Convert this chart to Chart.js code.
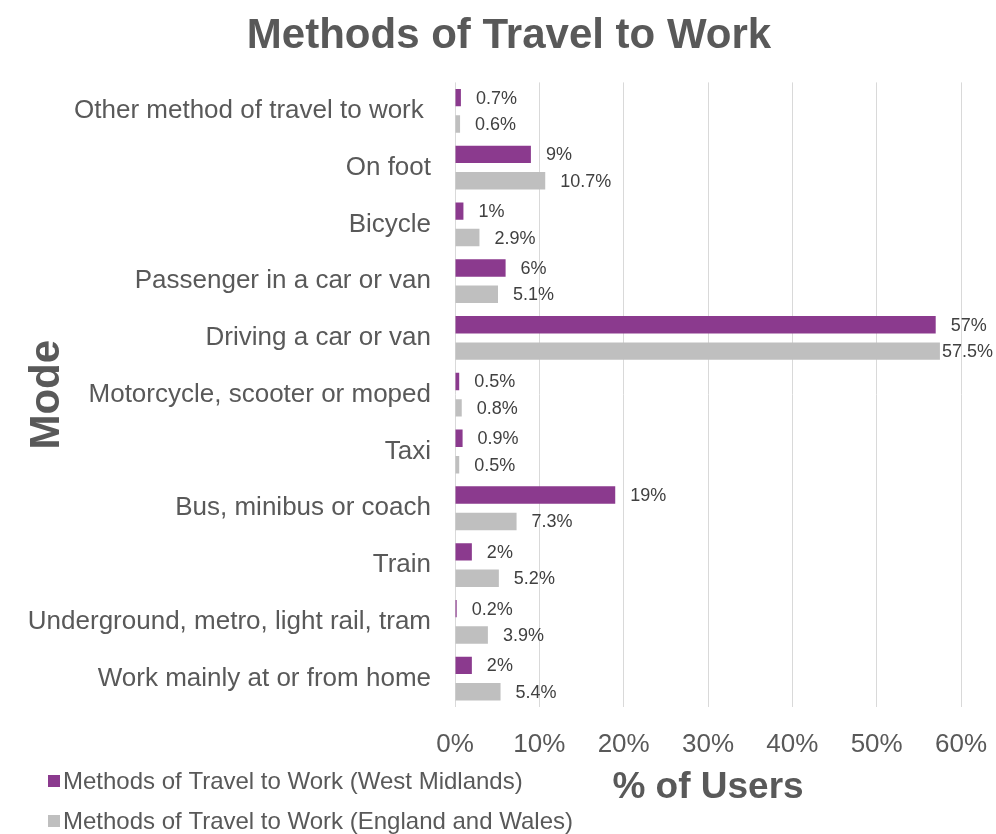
<!DOCTYPE html>
<html>
<head>
<meta charset="utf-8">
<script src="https://cdn.jsdelivr.net/npm/chart.js"></script>
<style>
  html, body { margin: 0; padding: 0; background: #fff; }
  #wrap { width: 996px; height: 834px; position: relative; }
</style>
</head>
<body>
<div id="wrap"><canvas id="travelChart"></canvas></div>
<script>
const modes = [
    'Other method of travel to work ',
    'On foot',
    'Bicycle',
    'Passenger in a car or van',
    'Driving a car or van',
    'Motorcycle, scooter or moped',
    'Taxi',
    'Bus, minibus or coach',
    'Train',
    'Underground, metro, light rail, tram',
    'Work mainly at or from home'
];
const westMidlands = [0.7, 9, 1, 6, 57, 0.5, 0.9, 19, 2, 0.2, 2];
const englandWales = [0.6, 10.7, 2.9, 5.1, 57.5, 0.8, 0.5, 7.3, 5.2, 3.9, 5.4];
const xTicks = [0, 10, 20, 30, 40, 50, 60];

const FONT = "'Liberation Sans', Arial, sans-serif";
const GREY_TEXT = '#595959';

// value labels to the right of each bar
const barLabels = {
    id: 'barLabels',
    afterDatasetsDraw(chart) {
        const ctx = chart.ctx;
        ctx.save();
        ctx.font = '18px ' + FONT;
        ctx.fillStyle = '#404040';
        ctx.textBaseline = 'middle';
        ctx.textAlign = 'left';
        chart.data.datasets.forEach((ds, i) => {
            chart.getDatasetMeta(i).data.forEach((bar, j) => {
                const txt = ds.data[j] + '%';
                const w = ctx.measureText(txt).width;
                let x = bar.x + 15;
                if (x + w > chart.width - 3) x = chart.width - 3 - w;
                ctx.fillText(txt, x, bar.y + 1);
            });
        });
        ctx.restore();
    }
};

// legend stacked in the bottom-left corner, beside the axis title
const cornerLegend = {
    id: 'cornerLegend',
    afterDraw(chart) {
        const ctx = chart.ctx;
        ctx.save();
        ctx.font = '24px ' + FONT;
        ctx.textBaseline = 'middle';
        chart.data.datasets.forEach((ds, i) => {
            const y = 781 + i * 40;
            ctx.fillStyle = ds.backgroundColor;
            ctx.fillRect(48, y - 6, 12, 12);
            ctx.fillStyle = GREY_TEXT;
            ctx.fillText(ds.label, 63, y + 1);
        });
        ctx.restore();
    }
};

const ctx = document.getElementById('travelChart').getContext('2d');
const travelChart = new Chart(ctx, {
    type: 'bar',
    data: {
        labels: modes,
        datasets: [
            {
                label: 'Methods of Travel to Work (West Midlands)',
                data: westMidlands,
                backgroundColor: '#8B3A8E',
                barPercentage: 0.66,
                categoryPercentage: 0.93
            },
            {
                label: 'Methods of Travel to Work (England and Wales)',
                data: englandWales,
                backgroundColor: '#BFBFBF',
                barPercentage: 0.66,
                categoryPercentage: 0.93
            }
        ]
    },
    options: {
        indexAxis: 'y',
        responsive: true,
        maintainAspectRatio: false,
        animation: false,
        layout: { padding: { left: 22, right: 0, top: 0, bottom: 24 } },
        scales: {
            x: {
                min: 0,
                max: 60,
                afterBuildTicks: (scale) => { scale.ticks = xTicks.map(v => ({ value: v })); },
                afterFit: (scale) => { scale.height = 103; scale.paddingRight = 35; },
                ticks: {
                    callback: (v) => v + '%',
                    color: GREY_TEXT,
                    font: { family: FONT, size: 26 },
                    padding: 22
                },
                grid: { color: '#D9D9D9', drawTicks: false },
                border: { display: false },
                title: {
                    display: true,
                    text: '% of Users',
                    color: GREY_TEXT,
                    font: { family: FONT, size: 37, weight: 'bold' },
                    padding: { top: 5, bottom: 0 }
                }
            },
            y: {
                afterFit: (scale) => { scale.width = 433; },
                ticks: {
                    color: GREY_TEXT,
                    font: { family: FONT, size: 26 },
                    padding: 24
                },
                grid: { display: false, drawTicks: false },
                border: { display: false },
                title: {
                    display: true,
                    text: 'Mode',
                    color: GREY_TEXT,
                    font: { family: FONT, size: 42, weight: 'bold' },
                    padding: { top: 0, bottom: 0 }
                }
            }
        },
        plugins: {
            legend: { display: false },
            tooltip: { enabled: false },
            title: {
                display: true,
                text: 'Methods of Travel to Work',
                color: GREY_TEXT,
                font: { family: FONT, size: 42, weight: 'bold' },
                padding: { top: 11, bottom: 21 }
            }
        }
    },
    plugins: [barLabels, cornerLegend]
});
</script>
</body>
</html>
